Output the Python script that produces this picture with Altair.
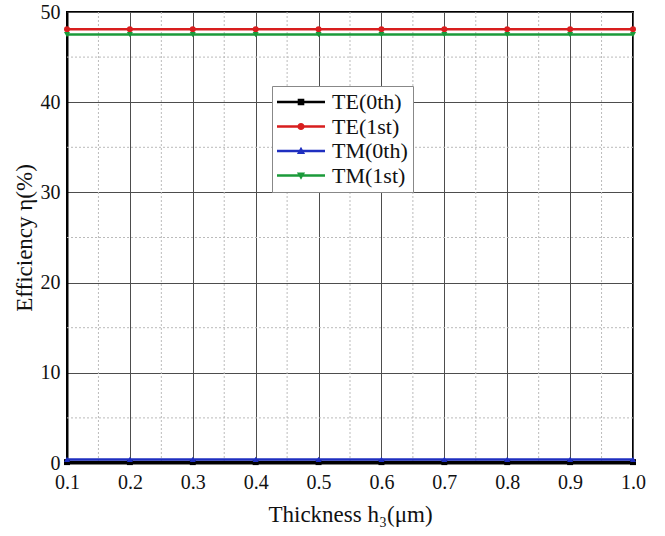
import altair as alt
import pandas as pd

# Layer thickness h3 (um)
thickness = [0.1, 0.2, 0.3, 0.4, 0.5, 0.6, 0.7, 0.8, 0.9, 1.0]

# Diffraction efficiency (%) for each order / polarisation
te_0th = [0.1, 0.1, 0.1, 0.1, 0.1, 0.1, 0.1, 0.1, 0.1, 0.1]
te_1st = [48.1, 48.1, 48.1, 48.1, 48.1, 48.1, 48.1, 48.1, 48.1, 48.1]
tm_0th = [0.4, 0.4, 0.4, 0.4, 0.4, 0.4, 0.4, 0.4, 0.4, 0.4]
tm_1st = [47.5, 47.5, 47.5, 47.5, 47.5, 47.5, 47.5, 47.5, 47.5, 47.5]

series_names = ["TE(0th)", "TE(1st)", "TM(0th)", "TM(1st)"]
series_colors = ["#000000", "#d81e1e", "#1f2fc0", "#1b9a3a"]
series_shapes = ["square", "circle", "triangle-up", "triangle-down"]

# Minor (dotted) grid positions
x_minor = [0.15, 0.25, 0.35, 0.45, 0.55, 0.65, 0.75, 0.85, 0.95]
y_minor = [5, 15, 25, 35, 45]

x_ticks = thickness
y_ticks = [0, 10, 20, 30, 40, 50]

# Legend glyphs: a line segment with the series marker in the middle.
# The symbol size is small (so rows stay compact) while the path reaches
# beyond the unit box to draw a long line; all sub-paths share a winding.
bar = "M-4,-0.21H4V0.21H-4Z"
legend_paths = [
    bar + "M-0.55,-0.55H0.55V0.55H-0.55Z",
    bar + "M-0.6,0A0.6,0.6 0 1,1 0.6,0A0.6,0.6 0 1,1 -0.6,0Z",
    bar + "M0,-0.7L0.68,0.48H-0.68Z",
    bar + "M0,0.7L-0.68,-0.48H0.68Z",
]

values = [te_0th, te_1st, tm_0th, tm_1st]
rows = []
for name, vals in zip(series_names, values):
    for t, v in zip(thickness, vals):
        rows.append({"thickness": t, "eff": v, "series": name})
df = pd.DataFrame(rows)

font = "Liberation Serif"

x_scale = alt.Scale(domain=[0.1, 1.0], nice=False, zero=False)
y_scale = alt.Scale(domain=[0, 50], nice=False)

x_enc = alt.X(
    "thickness:Q",
    scale=x_scale,
    title="Thickness h₃(μm)",
    axis=alt.Axis(values=x_ticks, format=".1f", grid=True, labelFlush=False),
)
y_enc = alt.Y(
    "eff:Q",
    scale=y_scale,
    title="Efficiency η(%)",
    axis=alt.Axis(values=y_ticks, format="d", grid=True, labelFlush=False),
)

minor_x = (
    alt.Chart(pd.DataFrame({"xm": x_minor}))
    .mark_rule(color="#bbbbbb", strokeDash=[2, 2], strokeWidth=1)
    .encode(x=alt.X("xm:Q", scale=x_scale))
)
minor_y = (
    alt.Chart(pd.DataFrame({"ym": y_minor}))
    .mark_rule(color="#bbbbbb", strokeDash=[2, 2], strokeWidth=1)
    .encode(y=alt.Y("ym:Q", scale=y_scale))
)

# One line + marker layer per series, each with its own colour and shape
series_layers = []
for i, (name, col, shp) in enumerate(zip(series_names, series_colors, series_shapes)):
    base = alt.Chart(df).transform_filter(alt.datum.series == name)
    series_layers.append(
        base.mark_line(strokeWidth=2.5, color=col).encode(
            x=x_enc if i == 0 else "thickness:Q",
            y=y_enc if i == 0 else "eff:Q",
        )
    )
    series_layers.append(
        base.mark_point(filled=True, size=36, opacity=1, shape=shp, color=col).encode(
            x="thickness:Q", y="eff:Q"
        )
    )

legend_props = dict(
    title=None,
    orient="none",
    legendX=205,
    legendY=74,
    symbolSize=144,
    symbolOffset=13,
    symbolOpacity=1,
    symbolStrokeWidth=0,
    labelFont=font,
    labelFontSize=22,
    labelColor="#111111",
    labelOffset=20,
    rowPadding=2.5,
    padding=5,
    fillColor="white",
    strokeColor="#888888",
)

legend_df = pd.DataFrame({"series": series_names, "thickness": [0.1] * 4, "eff": [0] * 4})
legend_layer = (
    alt.Chart(legend_df)
    .mark_point(filled=True, opacity=0)
    .encode(
        x="thickness:Q",
        y="eff:Q",
        color=alt.Color(
            "series:N",
            scale=alt.Scale(domain=series_names, range=series_colors),
            legend=alt.Legend(**legend_props),
        ),
        shape=alt.Shape(
            "series:N",
            scale=alt.Scale(domain=series_names, range=legend_paths),
            legend=alt.Legend(**legend_props),
        ),
    )
)

chart = (
    alt.layer(minor_x, minor_y, *series_layers, legend_layer)
    .properties(
        width=566,
        height=451,
        autosize=alt.AutoSizeParams(type="none"),
        padding={"left": 67, "top": 12, "right": 32, "bottom": 73},
    )
    .configure_view(stroke="#000000", strokeWidth=2)
    .configure_axis(
        domainColor="#000000",
        domainWidth=2,
        ticks=False,
        gridColor="#4d4d4d",
        gridWidth=1,
        labelFont=font,
        labelFontSize=20,
        labelColor="#111111",
        titleFont=font,
        titleFontSize=23,
        titleFontWeight="normal",
        titleColor="#111111",
    )
    .configure_axisX(labelPadding=9, titlePadding=11)
    .configure_axisY(labelPadding=7, titlePadding=4)
)

chart.save("out.html", embed_options={"renderer": "svg", "actions": False})
